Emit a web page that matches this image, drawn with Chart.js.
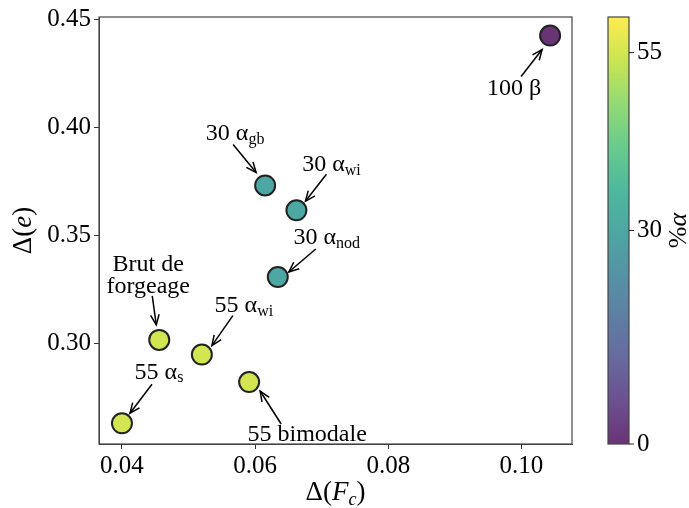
<!DOCTYPE html>
<html>
<head>
<meta charset="utf-8">
<script src="https://cdn.jsdelivr.net/npm/chart.js@4.4.0/dist/chart.umd.min.js"></script>
<style>
  html, body { margin: 0; padding: 0; background: #fff; }
  #wrap { width: 689px; height: 508px; }
</style>
</head>
<body>
<div id="wrap"><canvas id="myChart" width="689" height="508"></canvas></div>
<script>
// valeurs
var deltaFc  = [0.1043, 0.0615, 0.0662, 0.0634, 0.0456, 0.0520, 0.0400, 0.0591];
var deltaE   = [0.4426, 0.3732, 0.3617, 0.3308, 0.3017, 0.2949, 0.2631, 0.2822];
var pctAlpha = [0, 30, 30, 30, 55, 55, 55, 55];
var nomPoint = ['100 β', '30 α', '30 α', '30 α', 'Brut de|forgeage', '55 α', '55 α', '55 bimodale'];
var indice   = ['', 'gb', 'wi', 'nod', '', 'wi', 's', ''];

var xTicks  = [0.04, 0.06, 0.08, 0.10];
var yTicks  = [0.30, 0.35, 0.40, 0.45];
var cbTicks = [0, 30, 55];
var cbMax   = 60;

// placement des etiquettes (decalage en pixels par rapport au point)
var posTexte  = [[-36, 53], [-30, -52], [35, -46], [49, -39], [-11, -64], [42, -49], [37, -51], [58, 53]];
var posFleche = [
  [-29, 41, -8, 14],
  [-32, -41, -9, -13],
  [30, -36, 9, -9],
  [38, -28, 11, -5],
  [-7, -44, -3, -15],
  [31, -39, 10, -9],
  [30, -39, 8, -10],
  [32, 42, 11, 9]
];

var SERIF = "'Liberation Serif', 'DejaVu Serif', serif";

var viridis = ['#440154', '#482475', '#414487', '#355f8d', '#2a788e', '#21918c',
               '#22a884', '#44bf70', '#7ad151', '#bddf26', '#fde725'];

function hexRgb(h) {
  return [parseInt(h.substr(1, 2), 16), parseInt(h.substr(3, 2), 16), parseInt(h.substr(5, 2), 16)];
}

function couleurViridis(t, alpha) {
  t = Math.max(0, Math.min(1, t));
  var p = t * (viridis.length - 1);
  var i = Math.min(Math.floor(p), viridis.length - 2);
  var f = p - i;
  var a = hexRgb(viridis[i]), b = hexRgb(viridis[i + 1]);
  var c = [0, 1, 2].map(function (k) { return Math.round(a[k] + (b[k] - a[k]) * f); });
  return 'rgba(' + c[0] + ',' + c[1] + ',' + c[2] + ',' + alpha + ')';
}

var points = [];
var couleurs = [];
for (var i = 0; i < deltaFc.length; i++) {
  points.push({ x: deltaFc[i], y: deltaE[i] });
  couleurs.push(couleurViridis(pctAlpha[i] / cbMax, 0.8));
}

// texte avec indice
function drawRich(ctx, parts, x, y) {
  var w = 0;
  parts.forEach(function (p) { ctx.font = p.font; w += ctx.measureText(p.t).width; });
  var cx = x - w / 2;
  parts.forEach(function (p) {
    ctx.font = p.font;
    ctx.fillText(p.t, cx, y + (p.dy || 0));
    cx += ctx.measureText(p.t).width;
  });
}

function drawArrow(ctx, x1, y1, x2, y2) {
  var ang = Math.atan2(y2 - y1, x2 - x1);
  var L = 11, a = 0.4;
  ctx.beginPath();
  ctx.moveTo(x1, y1);
  ctx.lineTo(x2, y2);
  ctx.stroke();
  ctx.beginPath();
  ctx.moveTo(x2 - L * Math.cos(ang - a), y2 - L * Math.sin(ang - a));
  ctx.lineTo(x2, y2);
  ctx.lineTo(x2 - L * Math.cos(ang + a), y2 - L * Math.sin(ang + a));
  ctx.stroke();
}

var decor = {
  id: 'decor',
  afterDatasetsDraw: function (chart) {
    var ctx = chart.ctx;
    var meta = chart.getDatasetMeta(0);
    ctx.save();
    ctx.fillStyle = '#000';
    ctx.strokeStyle = '#000';
    ctx.lineWidth = 1.5;
    ctx.textBaseline = 'middle';
    ctx.textAlign = 'left';
    for (var i = 0; i < meta.data.length; i++) {
      var px = meta.data[i].x, py = meta.data[i].y;
      var lignes = nomPoint[i].split('|');
      var tx = px + posTexte[i][0], ty = py + posTexte[i][1];
      var lh = 22;
      var y0 = ty - (lignes.length - 1) * lh / 2;
      lignes.forEach(function (l, k) {
        var parts = [{ t: l, font: '24px ' + SERIF }];
        if (k === lignes.length - 1 && indice[i]) {
          parts.push({ t: indice[i], font: '16px ' + SERIF, dy: 6 });
        }
        drawRich(ctx, parts, tx, y0 + k * lh);
      });
      var f = posFleche[i];
      drawArrow(ctx, px + f[0], py + f[1], px + f[2], py + f[3]);
    }
    ctx.restore();
  },
  afterDraw: function (chart) {
    var ctx = chart.ctx;
    var a = chart.chartArea;
    var cb = chart.scales.cb;
    ctx.save();
    // cadre
    ctx.strokeStyle = '#444';
    ctx.lineWidth = 1.2;
    ctx.strokeRect(a.left, a.top, a.right - a.left, a.bottom - a.top);

    // barre de couleur
    var x0 = 608, x1 = 629;
    var yb = cb.getPixelForValue(0), yt = cb.getPixelForValue(cbMax);
    var grad = ctx.createLinearGradient(0, yb, 0, yt);
    viridis.forEach(function (c, k) {
      grad.addColorStop(k / (viridis.length - 1), couleurViridis(k / (viridis.length - 1), 0.8));
    });
    ctx.fillStyle = grad;
    ctx.fillRect(x0, yt, x1 - x0, yb - yt);
    ctx.strokeRect(x0, yt, x1 - x0, yb - yt);
    ctx.strokeStyle = '#222';
    ctx.lineWidth = 1;
    cbTicks.forEach(function (v) {
      var y = cb.getPixelForValue(v);
      ctx.beginPath();
      ctx.moveTo(x1, y);
      ctx.lineTo(x1 + 5, y);
      ctx.stroke();
    });

    // titres des axes
    ctx.fillStyle = '#000';
    ctx.textBaseline = 'alphabetic';
    drawRich(ctx, [
      { t: 'Δ(', font: '27px ' + SERIF },
      { t: 'F', font: 'italic 27px ' + SERIF },
      { t: 'c', font: 'italic 18px ' + SERIF, dy: 5 },
      { t: ')', font: '27px ' + SERIF }
    ], (a.left + a.right) / 2, 500);

    ctx.save();
    ctx.translate(31, (a.top + a.bottom) / 2);
    ctx.rotate(-Math.PI / 2);
    drawRich(ctx, [
      { t: 'Δ(', font: '27px ' + SERIF },
      { t: 'e', font: 'italic 27px ' + SERIF },
      { t: ')', font: '27px ' + SERIF }
    ], 0, 0);
    ctx.restore();

    ctx.save();
    ctx.translate(686, cb.getPixelForValue(30));
    ctx.rotate(-Math.PI / 2);
    drawRich(ctx, [
      { t: '%', font: '26px ' + SERIF },
      { t: 'α', font: 'italic 26px ' + SERIF }
    ], 0, 0);
    ctx.restore();
    ctx.restore();
  }
};

var tickFont = { family: SERIF, size: 25 };

var ctx = document.getElementById('myChart').getContext('2d');
var chart = new Chart(ctx, {
  type: 'scatter',
  data: {
    datasets: [{
      data: points,
      backgroundColor: couleurs,
      borderColor: '#222',
      borderWidth: 2,
      pointRadius: 10,
      pointHoverRadius: 10,
      clip: false
    }]
  },
  options: {
    responsive: false,
    animation: false,
    events: [],
    layout: { padding: { top: 17, left: 0, right: 0, bottom: 0 } },
    plugins: { legend: { display: false }, tooltip: { enabled: false } },
    scales: {
      x: {
        type: 'linear',
        min: 0.03655,
        max: 0.10759,
        afterBuildTicks: function (s) { s.ticks = xTicks.map(function (v) { return { value: v }; }); },
        afterFit: function (s) { s.height = 64; s.paddingLeft = 0; s.paddingRight = 0; },
        ticks: { font: tickFont, color: '#000', padding: 2, maxRotation: 0,
                 callback: function (v) { return v.toFixed(2); } },
        grid: { drawOnChartArea: false, tickLength: 5, color: '#333' },
        border: { display: true, color: '#444' }
      },
      y: {
        type: 'linear',
        min: 0.2535,
        max: 0.4512,
        afterBuildTicks: function (s) { s.ticks = yTicks.map(function (v) { return { value: v }; }); },
        afterFit: function (s) { s.width = 99; s.paddingTop = 0; s.paddingBottom = 0; },
        ticks: { font: tickFont, color: '#000', padding: 3,
                 callback: function (v) { return v.toFixed(2); } },
        grid: { drawOnChartArea: false, tickLength: 5, color: '#333' },
        border: { display: true, color: '#444' }
      },
      cb: {
        type: 'linear',
        position: 'right',
        min: 0,
        max: cbMax,
        afterBuildTicks: function (s) { s.ticks = cbTicks.map(function (v) { return { value: v }; }); },
        afterFit: function (s) { s.width = 117; s.paddingTop = 0; s.paddingBottom = 0; },
        ticks: { font: tickFont, color: '#000', padding: 65,
                 callback: function (v) { return String(v); } },
        grid: { display: false, drawTicks: false },
        border: { display: false }
      }
    }
  },
  plugins: [decor]
});
</script>
</body>
</html>
